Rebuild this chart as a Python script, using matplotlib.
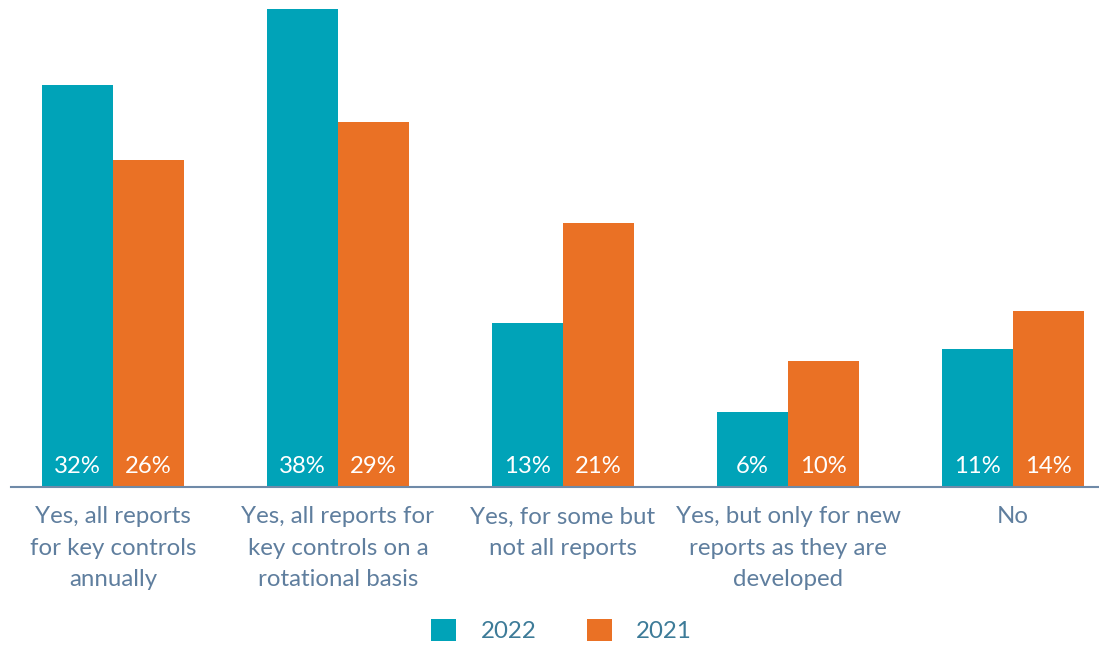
import numpy as np
import matplotlib.pyplot as plt

# data
categories = [
    "Yes, all reports\nfor key controls\nannually",
    "Yes, all reports for\nkey controls on a\nrotational basis",
    "Yes, for some but\nnot all reports",
    "Yes, but only for new\nreports as they are\ndeveloped",
    "No",
]
vals_2022 = [32, 38, 13, 6, 11]
vals_2021 = [26, 29, 21, 10, 14]
series_names = ["2022", "2021"]

TEAL = "#00A3B8"
ORANGE = "#EA7125"
AXIS_GRAY = "#6F8AA8"
TICK_COL = "#5F7E9E"
LEGEND_COL = "#3D7B98"

plt.rcParams['font.family'] = ['Lato', 'DejaVu Sans']

fig = plt.figure(figsize=(10.99, 6.47), dpi=100)
ax = fig.add_axes([0.01, 0.2473, 0.99, 0.986 - 0.2473])

x = np.arange(len(categories))
w = 0.316
b1 = ax.bar(x - w / 2, vals_2022, w, color=TEAL, label=series_names[0])
b2 = ax.bar(x + w / 2, vals_2021, w, color=ORANGE, label=series_names[1])

# labels inside the bars, near the bottom
for bars, vals in ((b1, vals_2022), (b2, vals_2021)):
    for rect, v in zip(bars, vals):
        ax.annotate(f"{v}%", (rect.get_x() + rect.get_width() / 2, 0),
                    xytext=(0, 15), textcoords="offset points",
                    ha="center", va="center", color="white", fontsize=17.2)

ax.set_ylim(0, 38)
ax.set_xlim(-0.453, 4.382)
ax.set_yticks([])
ax.set_xticks(x)
ax.set_xticklabels(categories, fontsize=17.3, color=TICK_COL, linespacing=1.6)
ax.tick_params(axis="x", length=0, pad=14)
for s in ["top", "right", "left"]:
    ax.spines[s].set_visible(False)
ax.spines["bottom"].set_color(AXIS_GRAY)
ax.spines["bottom"].set_linewidth(1.5)
ax.spines["bottom"].set_zorder(3)

leg = fig.legend(handles=[b1, b2], labels=series_names, loc="center",
                 bbox_to_anchor=(0.511, 0.026), ncol=2, frameon=False,
                 fontsize=17.3, handlelength=1.05, handleheight=1.05,
                 handletextpad=1.0, columnspacing=2.1)
for t in leg.get_texts():
    t.set_color(LEGEND_COL)

fig.savefig("out.png", dpi=100)
